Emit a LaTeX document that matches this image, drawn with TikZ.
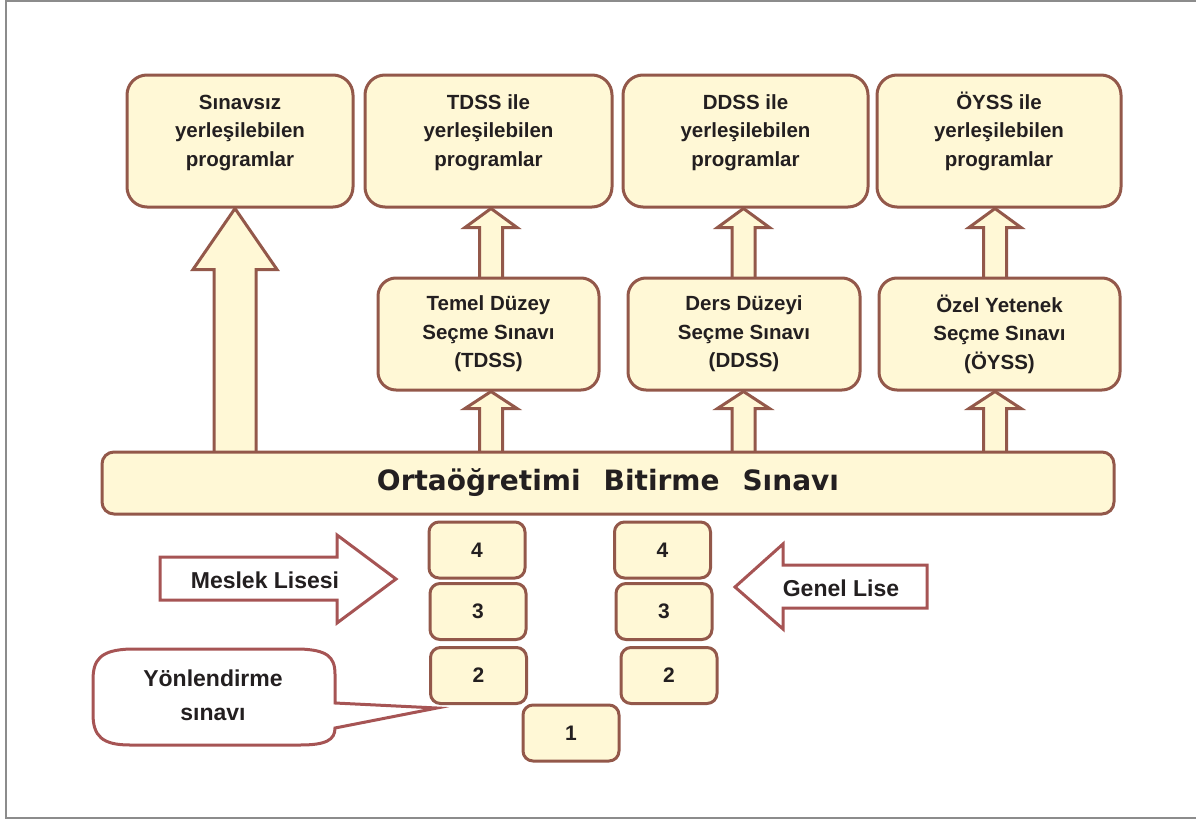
\documentclass[tikz,border=0pt]{standalone}
\usepackage{fontspec}
\setmainfont{Liberation Sans}
\newfontfamily\barfont{DejaVu Sans}
\usetikzlibrary{calc,backgrounds}
\definecolor{boxfill}{HTML}{FFF8D6}
\definecolor{boxline}{HTML}{93584A}
\definecolor{redline}{HTML}{A65454}
\definecolor{txt}{HTML}{231F20}
\definecolor{framegray}{HTML}{8C8C8C}
\newcommand\toptext[1]{\raisebox{9pt}[\height][\depth]{\begin{tabular}{@{}c@{}}#1\end{tabular}}}
\newcommand\blockup[6]{%
  \coordinate (tmpx) at (#3,0);
  \draw[blockarrow] ($(tmpx |- #1.north)+(-#4,3)$) -- ($(tmpx |- #2.south)+(-#4,#6)$)
    -- ($(tmpx |- #2.south)+(-#5,#6)$) -- (tmpx |- #2.south)
    -- ($(tmpx |- #2.south)+(#5,#6)$) -- ($(tmpx |- #2.south)+(#4,#6)$)
    -- ($(tmpx |- #1.north)+(#4,3)$) -- cycle;}
\begin{document}
\begin{tikzpicture}[x=1pt,y=-1pt,
  box/.style={draw=boxline, line width=3pt, fill=boxfill, text=txt, inner sep=0pt,
    font=\fontsize{20.5}{28.5}\selectfont\bfseries},
  topbox/.style={box, rounded corners=20pt, minimum height=132pt},
  midbox/.style={box, rounded corners=18pt, minimum height=112pt, align=center},
  numbox/.style={box, rounded corners=10pt, minimum width=96pt, minimum height=56pt,
    font=\fontsize{21}{22}\selectfont\bfseries},
  barbox/.style={box, rounded corners=12pt, minimum width=1012pt, minimum height=62pt,
    font=\barfont\fontsize{28}{30}\selectfont\bfseries},
  blockarrow/.style={draw=boxline, line width=3pt, fill=boxfill, line join=miter},
  sidearrow/.style={draw=redline, line width=3pt, fill=white, line join=miter},
  lbl/.style={text=txt, font=\fontsize{23}{34}\selectfont\bfseries, align=center, inner sep=0pt}
]
\useasboundingbox (0,0) rectangle (1196,819);
\draw[framegray, line width=2pt] (1196,1) -- (6,1) -- (6,818) -- (1196,818);

% top boxes
\node[topbox, minimum width=226pt] (pA) at (240,141) {\toptext{Sınavsız\\yerleşilebilen\\programlar}};
\node[topbox, minimum width=247pt] (pB) at (488.5,141) {\toptext{TDSS ile\\yerleşilebilen\\programlar}};
\node[topbox, minimum width=245pt] (pC) at (745.5,141) {\toptext{DDSS ile\\yerleşilebilen\\programlar}};
\node[topbox, minimum width=244pt] (pD) at (999,141) {\toptext{ÖYSS ile\\yerleşilebilen\\programlar}};

% middle boxes
\node[midbox, minimum width=221pt] (tdss) at (488.5,334) {Temel Düzey\\Seçme Sınavı\\(TDSS)};
\node[midbox, minimum width=232pt] (ddss) at (744,334) {Ders Düzeyi\\Seçme Sınavı\\(DDSS)};
\node[midbox, minimum width=241pt] (oyss) at (999.5,334) {Özel Yetenek\\Seçme Sınavı\\(ÖYSS)};

% bar
\node[barbox] (obs) at (608,483) {Ortaöğretimi\hspace{23pt}Bitirme\hspace{23pt}Sınavı};

% block arrows
\begin{pgfonlayer}{background}
\blockup{obs}{pA}{235}{21}{42}{61}
\blockup{tdss}{pB}{491}{11.5}{26}{19}
\blockup{ddss}{pC}{743.5}{11.5}{26}{19}
\blockup{oyss}{pD}{995}{11.5}{26}{19}
\blockup{obs}{tdss}{491}{11.5}{26}{17}
\blockup{obs}{ddss}{743.5}{11.5}{26}{17}
\blockup{obs}{oyss}{995}{11.5}{26}{17}
\end{pgfonlayer}

% grade boxes
\node[numbox] (l4) at (477,550) {4};
\node[numbox] (l3) at (478,611.5) {3};
\node[numbox] (l2) at (478.5,675.5) {2};
\node[numbox] (g1) at (571,733) {1};
\node[numbox] (r4) at (662.5,550) {4};
\node[numbox] (r3) at (664,611.5) {3};
\node[numbox] (r2) at (669,675.5) {2};

% side arrows
\draw[sidearrow] (160,557) -- (337,557) -- (337,535) -- (396,579) -- (337,623) -- (337,600) -- (160,600) -- cycle;
\node[lbl] (ml) at (265,580) {Meslek Lisesi};
\draw[sidearrow] (927,565) -- (783,565) -- (783,544) -- (735,587) -- (783,629) -- (783,608) -- (927,608) -- cycle;
\node[lbl] (gl) at (841,588) {Genel Lise};

% callout
\draw[sidearrow] (335,703) -- (335,674) .. controls (335,656) and (326,650) .. (300,649)
  -- (130,649) .. controls (100,650) and (93,660) .. (93,680) -- (93,714)
  .. controls (93,736) and (102,745) .. (130,745) -- (300,745)
  .. controls (326,745) and (335,740) .. (335,728) -- (437,708) -- cycle;
\node[lbl] (ys) at (213,695) {Yönlendirme\\sınavı};
\end{tikzpicture}
\end{document}
